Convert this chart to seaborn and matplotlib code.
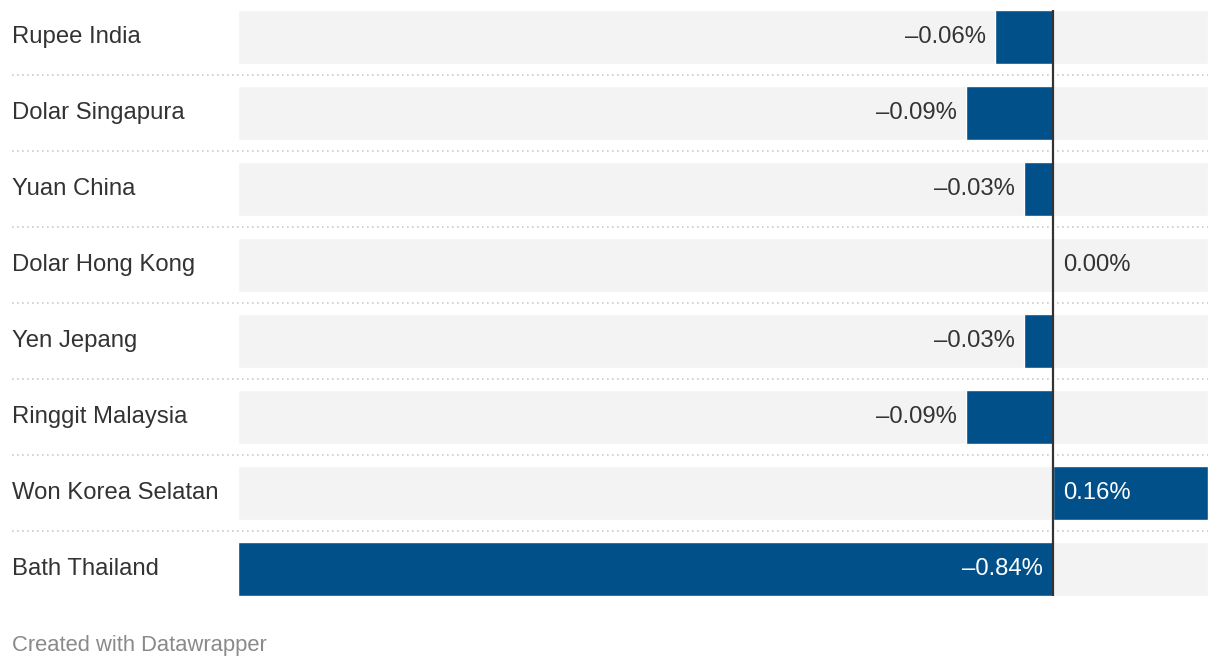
import matplotlib
matplotlib.use("Agg")
import matplotlib.pyplot as plt
import matplotlib.transforms as mtransforms
import seaborn as sns
import pandas as pd

categories = ["Rupee India", "Dolar Singapura", "Yuan China", "Dolar Hong Kong",
              "Yen Jepang", "Ringgit Malaysia", "Won Korea Selatan", "Bath Thailand"]
values = [-0.06, -0.09, -0.03, 0.00, -0.03, -0.09, 0.16, -0.84]
labels = ["\u20130.06%", "\u20130.09%", "\u20130.03%", "0.00%",
          "\u20130.03%", "\u20130.09%", "0.16%", "\u20130.84%"]
footer = "Created with Datawrapper"

sns.set_theme(style="white")
plt.rcParams["font.family"] = ["Liberation Sans", "DejaVu Sans"]

BLUE = "#01508a"
BG = "#f3f3f3"
TXT = "#333333"

df = pd.DataFrame({"category": categories, "value": values})

fig = plt.figure(figsize=(12.2, 6.68), dpi=100)
ax = fig.add_axes([238 / 1220, 48 / 668, 970 / 1220, 620 / 668])

xmin, xmax = min(values), max(values)
n = len(categories)
bar_h = 0.712

# background bars
ax.barh(range(n), [xmax - xmin] * n, left=xmin, height=bar_h, color=BG, zorder=0)

sns.barplot(data=df, x="value", y="category", orient="h", color=BLUE,
            saturation=1, width=bar_h, ax=ax, zorder=2)

ax.set_xlim(xmin, xmax)
ax.set_ylim(7.675, -0.483)
ax.axis("off")

# zero line
ax.plot([0, 0], [-bar_h / 2, n - 1 + bar_h / 2], color=TXT, lw=1.6, zorder=5,
        solid_capstyle="butt")

px = (xmax - xmin) / 970.0
fs = 17.2
for i, (v, lab) in enumerate(zip(values, labels)):
    inside = abs(v) >= 0.1
    if v < 0:
        if inside:
            ax.text(0 - 10 * px, i, lab, ha="right", va="center", color="white",
                    fontsize=fs, zorder=6)
        else:
            ax.text(v - 9 * px, i, lab, ha="right", va="center", color=TXT,
                    fontsize=fs, zorder=6)
    else:
        ax.text(0 + 10 * px, i, lab, ha="left", va="center",
                color="white" if inside else TXT, fontsize=fs, zorder=6)

trans = mtransforms.blended_transform_factory(fig.transFigure, ax.transData)
for i, c in enumerate(categories):
    ax.text(12 / 1220, i, c, ha="left", va="center", color=TXT, fontsize=fs,
            transform=trans)

# dotted separators
for i in range(n - 1):
    ax.plot([12 / 1220, 1208 / 1220], [i + 0.5, i + 0.5], transform=trans,
            color="#cccccc", lw=1.2, linestyle=(0, (1, 2)), clip_on=False, zorder=1)

fig.text(12 / 1220, 1 - 645 / 668, footer, ha="left", va="center",
         color="#8a8a8a", fontsize=15.8)

fig.savefig("out.png", dpi=100)
